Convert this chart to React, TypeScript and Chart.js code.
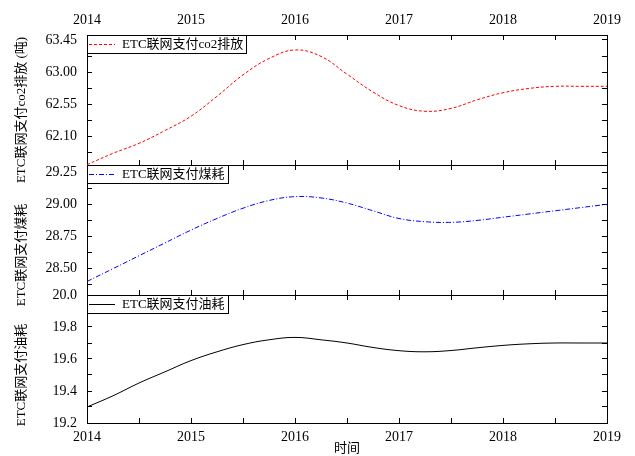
import React, { useEffect, useRef } from 'react';
import { Chart, registerables } from 'chart.js';

Chart.register(...registerables);

// ---- data ----
const years = [2014, 2014.25, 2014.5, 2014.75, 2015, 2015.25, 2015.5, 2015.75, 2016, 2016.25, 2016.5, 2016.75, 2017, 2017.25, 2017.5, 2017.75, 2018, 2018.25, 2018.5, 2018.75, 2019];
const co2 = [61.70, 61.86, 62.00, 62.18, 62.38, 62.66, 62.96, 63.19, 63.31, 63.22, 62.97, 62.72, 62.53, 62.45, 62.49, 62.61, 62.71, 62.77, 62.80, 62.80, 62.80];
const coal = [28.40, 28.50, 28.60, 28.70, 28.80, 28.89, 28.97, 29.03, 29.06, 29.05, 29.01, 28.95, 28.89, 28.865, 28.86, 28.875, 28.90, 28.925, 28.95, 28.975, 29.00];
const oil = [19.30, 19.37, 19.45, 19.52, 19.59, 19.645, 19.69, 19.72, 19.735, 19.72, 19.70, 19.672, 19.652, 19.645, 19.653, 19.67, 19.685, 19.695, 19.70, 19.70, 19.70];

// ---- ticks ----
const xMajor = [2014, 2015, 2016, 2017, 2018, 2019];
const xMinor = [2014.5, 2015.5, 2016.5, 2017.5, 2018.5];
const co2Major = [62.10, 62.55, 63.00, 63.45];
const co2Minor = [61.875, 62.325, 62.775, 63.225];
const coalMajor = [28.50, 28.75, 29.00, 29.25];
const coalMinor = [28.375, 28.625, 28.875, 29.125];
const oilMajor = [19.2, 19.4, 19.6, 19.8, 20.0];
const oilMinor = [19.3, 19.5, 19.7, 19.9];

// ---- labels ----
const co2Label = 'ETC联网支付co2排放';
const coalLabel = 'ETC联网支付煤耗';
const oilLabel = 'ETC联网支付油耗';
const co2Title = 'ETC联网支付co2排放 (吨)';
const coalTitle = 'ETC联网支付煤耗';
const oilTitle = 'ETC联网支付油耗';
const xTitle = '时间';

const FONT = "'Liberation Serif', 'Noto Sans CJK SC', serif";
const W = 635;
const H = 456;

type Panel = {
  key: string;
  values: number[];
  color: string;
  dash: number[];
  label: string;
  title: string;
  titleY: number;
  min: number;
  max: number;
  major: number[];
  minor: number[];
  dec: number;
  padTop: number;
  padBottom: number;
  topH: number;
  bottomH: number;
  topLabels: boolean;
  bottomLabels: boolean;
};

function decorPlugin(p: Panel) {
  return {
    id: 'decor_' + p.key,
    afterDraw(chart: any) {
      const { ctx, chartArea: a } = chart;
      // y-axis title
      ctx.save();
      ctx.font = `13px ${FONT}`;
      ctx.fillStyle = '#000';
      ctx.translate(22, p.titleY);
      ctx.rotate(-Math.PI / 2);
      ctx.textAlign = 'center';
      ctx.textBaseline = 'middle';
      ctx.fillText(p.title, 0, 0);
      ctx.restore();
      // legend box
      ctx.save();
      ctx.font = `13px ${FONT}`;
      const tw = ctx.measureText(p.label).width;
      const x0 = a.left;
      const y0 = a.top;
      const h = 18;
      const textX = x0 + 35;
      const w = Math.round(textX - x0 + tw + 3);
      ctx.fillStyle = '#fff';
      ctx.fillRect(x0, y0, w, h);
      ctx.strokeStyle = '#000';
      ctx.lineWidth = 1;
      ctx.strokeRect(x0 + 0.5, y0 + 0.5, w, h);
      ctx.strokeStyle = p.color;
      ctx.setLineDash(p.dash);
      ctx.beginPath();
      ctx.moveTo(x0 + 2, y0 + h / 2 + 0.5);
      ctx.lineTo(x0 + 28, y0 + h / 2 + 0.5);
      ctx.stroke();
      ctx.setLineDash([]);
      ctx.fillStyle = '#000';
      ctx.textAlign = 'left';
      ctx.textBaseline = 'middle';
      ctx.fillText(p.label, textX, y0 + h / 2 + 1);
      ctx.restore();
    },
  };
}

function buildConfig(p: Panel): any {
  const yTicks = [...p.major, ...p.minor].sort((a, b) => a - b);
  const xTicks = [...xMajor, ...xMinor].sort((a, b) => a - b);
  const setY = (s: any) => {
    s.ticks = yTicks.map((v) => ({ value: v }));
  };
  const setX = (s: any) => {
    s.ticks = xTicks.map((v) => ({ value: v }));
  };
  const grid = { display: true, drawOnChartArea: false, drawTicks: true, tickLength: -5, tickColor: '#000', tickWidth: 1, color: '#000' };
  const border = { display: true, color: '#000', width: 1 };
  const tickFont = { family: FONT, size: 14 };
  const xCallback = (v: number) => (xMajor.includes(v) ? String(v) : '');
  return {
    type: 'line',
    data: {
      datasets: [
        {
          label: p.label,
          data: years.map((x, i) => ({ x, y: p.values[i] })),
          borderColor: p.color,
          borderWidth: 1,
          borderDash: p.dash,
          pointRadius: 0,
          fill: false,
          tension: 0.4,
          xAxisID: 'x',
          yAxisID: 'y',
        },
      ],
    },
    options: {
      animation: false,
      responsive: false,
      events: [],
      layout: { padding: { top: p.padTop, bottom: p.padBottom, left: 0, right: 0 } },
      plugins: { legend: { display: false }, tooltip: { enabled: false } },
      scales: {
        x: {
          type: 'linear',
          position: 'bottom',
          min: 2014,
          max: 2019,
          afterBuildTicks: setX,
          afterFit: (s: any) => {
            s.height = p.bottomH;
          },
          grid,
          border,
          ticks: { display: p.bottomLabels, padding: 10.6, color: '#000', font: tickFont, callback: xCallback, autoSkip: false, maxRotation: 0 },
          title: { display: p.bottomLabels, text: xTitle, padding: 0, color: '#000', font: { family: FONT, size: 13 } },
        },
        xTop: {
          type: 'linear',
          position: 'top',
          min: 2014,
          max: 2019,
          afterBuildTicks: setX,
          afterFit: (s: any) => {
            s.height = p.topH;
          },
          grid,
          border,
          ticks: { display: p.topLabels, padding: 11.6, color: '#000', font: tickFont, callback: xCallback, autoSkip: false, maxRotation: 0 },
        },
        y: {
          type: 'linear',
          position: 'left',
          min: p.min,
          max: p.max,
          afterBuildTicks: setY,
          afterFit: (s: any) => {
            s.width = 87;
          },
          grid,
          border,
          ticks: {
            padding: 15,
            color: '#000',
            font: tickFont,
            autoSkip: false,
            callback: (v: number) => (p.major.includes(v) ? v.toFixed(p.dec) : ''),
          },
        },
        yR: {
          type: 'linear',
          position: 'right',
          min: p.min,
          max: p.max,
          afterBuildTicks: setY,
          afterFit: (s: any) => {
            s.width = W - 607;
          },
          grid,
          border,
          ticks: { display: false },
        },
      },
    },
    plugins: [decorPlugin(p)],
  };
}

const panels: Panel[] = [
  {
    key: 'co2', values: co2, color: '#ff0000', dash: [3, 2], label: co2Label, title: co2Title, titleY: 110,
    min: 61.696, max: 63.52, major: co2Major, minor: co2Minor, dec: 2,
    padTop: 0, padBottom: H - 165 - 10, topH: 35, bottomH: 10, topLabels: true, bottomLabels: false,
  },
  {
    key: 'coal', values: coal, color: '#0000ff', dash: [5, 2, 1, 2], label: coalLabel, title: coalTitle, titleY: 255,
    min: 28.295, max: 29.306, major: coalMajor, minor: coalMinor, dec: 2,
    padTop: 155, padBottom: H - 295 - 10, topH: 10, bottomH: 10, topLabels: false, bottomLabels: false,
  },
  {
    key: 'oil', values: oil, color: '#000000', dash: [], label: oilLabel, title: oilTitle, titleY: 375,
    min: 19.2, max: 20.0, major: oilMajor, minor: oilMinor, dec: 1,
    padTop: 285, padBottom: 0, topH: 10, bottomH: H - 423, topLabels: false, bottomLabels: true,
  },
];

export default function App() {
  const r0 = useRef<HTMLCanvasElement | null>(null);
  const r1 = useRef<HTMLCanvasElement | null>(null);
  const r2 = useRef<HTMLCanvasElement | null>(null);

  useEffect(() => {
    const refs = [r0, r1, r2];
    const charts = panels.map((p, i) => new Chart(refs[i].current as HTMLCanvasElement, buildConfig(p)));
    return () => charts.forEach((c) => c.destroy());
  }, []);

  const cs: React.CSSProperties = { position: 'absolute', left: 0, top: 0, width: W, height: H };
  return (
    <div style={{ position: 'fixed', left: 0, top: 0, width: W, height: H, background: '#fff' }}>
      <canvas ref={r0} width={W} height={H} style={cs} />
      <canvas ref={r1} width={W} height={H} style={cs} />
      <canvas ref={r2} width={W} height={H} style={cs} />
    </div>
  );
}
